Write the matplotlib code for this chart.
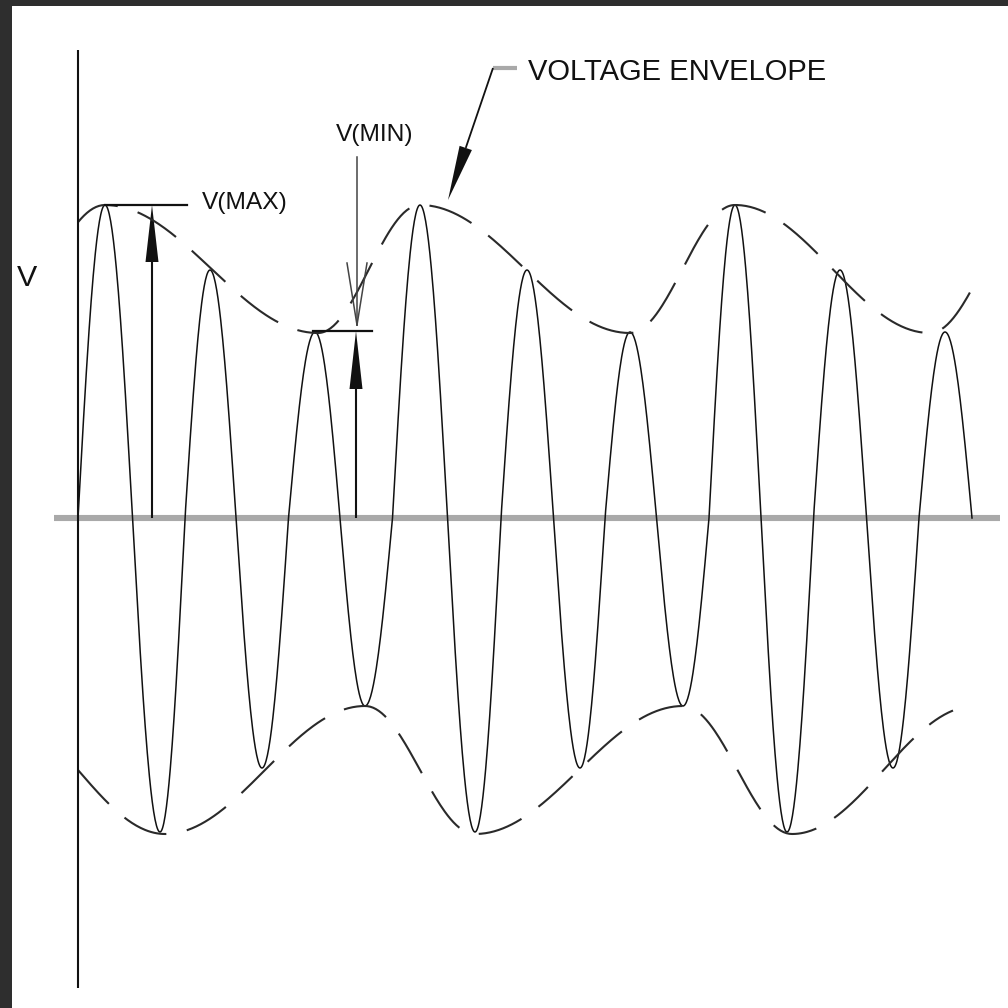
"""
Voltage envelope sketch: carrier with dashed envelope, V(MAX) / V(MIN) markers.
Units are screen-like: x measured from the V axis, y measured from the baseline.
"""

import matplotlib

matplotlib.use("Agg")
import matplotlib.pyplot as plt
import numpy as np
from matplotlib import font_manager

# carrier extrema (x position, signed amplitude) and its start / end on the baseline
CARRIER_X = [27, 82, 132, 184, 237, 287, 342, 397, 449, 502, 552, 605, 657, 709, 762, 815, 867]
CARRIER_V = [313, -314, 248, -250, 186, -188, 313, -314, 248, -250, 186, -188, 313, -314, 248, -250, 186]
CARRIER_START = 0
CARRIER_END = 894

# dashed envelope turning points
UPPER_X = [-86, 27, 240, 342, 552, 657, 852, 957]
UPPER_V = [185, 313, 185, 313, 185, 313, 185, 313]
UPPER_SPAN = (0, 895)
LOWER_X = [-87, 87, 287, 397, 605, 714, 897]
LOWER_V = [-188, -316, -188, -316, -188, -316, -188]
LOWER_SPAN = (0, 875)

V_MAX = 313
V_MIN = 187

INK = "#111111"
AXIS_GREY = "#a9a9a9"
FRAME = "#2e2e2e"

names = {f.name for f in font_manager.fontManager.ttflist}
if "Liberation Sans Narrow" in names:
    FONT, FSCALE = "Liberation Sans Narrow", 1.0
else:
    FONT, FSCALE = "Liberation Sans", 0.84


def carrier_curve(xs, vs, x0, x1):
    """Quarter-wave arcs from zero crossing to each extremum and back."""
    cross = [x0] + [(a + b) / 2 for a, b in zip(xs[:-1], xs[1:])] + [x1]
    px, py = [], []
    for i, (xe, a) in enumerate(zip(xs, vs)):
        left, right = cross[i], cross[i + 1]
        t = np.linspace(left, xe, 40)
        px.append(t)
        py.append(a * np.sin(np.pi / 2 * (t - left) / (xe - left)))
        t = np.linspace(xe, right, 40)[1:]
        px.append(t)
        py.append(a * np.cos(np.pi / 2 * (t - xe) / (right - xe)))
    return np.concatenate(px), np.concatenate(py)


def envelope_curve(xs, vs, span):
    """Smooth half-cosine blend between successive turning points."""
    t = np.linspace(span[0], span[1], 600)
    idx = np.clip(np.searchsorted(xs, t) - 1, 0, len(xs) - 2)
    xa, xb = np.array(xs)[idx], np.array(xs)[idx + 1]
    va, vb = np.array(vs)[idx], np.array(vs)[idx + 1]
    f = (1 - np.cos(np.pi * (t - xa) / (xb - xa))) / 2
    return t, va + (vb - va) * f


def filled_arrow(ax, tail, tip, head_len, half_w, color=INK, lw=1.5):
    tail, tip = np.array(tail, float), np.array(tip, float)
    d = (tip - tail) / np.linalg.norm(tip - tail)
    n = np.array([-d[1], d[0]])
    base = tip - d * head_len
    ax.plot([tail[0], base[0]], [tail[1], base[1]], color=color, lw=lw, solid_capstyle="butt")
    head = np.array([tip, base + n * half_w, base - n * half_w])
    ax.fill(head[:, 0], head[:, 1], color=color, lw=0)


def open_arrow(ax, tail, tip, head_len, half_w, color="#444444", lw=1.1):
    tail, tip = np.array(tail, float), np.array(tip, float)
    d = (tip - tail) / np.linalg.norm(tip - tail)
    n = np.array([-d[1], d[0]])
    base = tip - d * head_len
    ax.plot([tail[0], tip[0]], [tail[1], tip[1]], color=color, lw=lw)
    for s in (1, -1):
        b = base + s * n * half_w
        ax.plot([b[0], tip[0]], [b[1], tip[1]], color=color, lw=lw)


plt.rcParams["lines.scale_dashes"] = False
fig = plt.figure(figsize=(10.08, 10.08), dpi=100, facecolor=FRAME)
ax = fig.add_axes([12 / 1008, 0, 996 / 1008, 1002 / 1008])
ax.set_facecolor("white")
ax.set_xlim(-66, 930)
ax.set_ylim(-490, 512)
ax.axis("off")
ax.add_patch(plt.Rectangle((-66, -490), 996, 1002, color="white", zorder=0))

# axes of the sketch
ax.plot([-24, 922], [0, 0], color=AXIS_GREY, lw=4.4, solid_capstyle="butt", zorder=1)
ax.plot([0, 0], [-470, 468], color=INK, lw=1.5, solid_capstyle="butt", zorder=3)

# carrier
cx, cy = carrier_curve(CARRIER_X, CARRIER_V, CARRIER_START, CARRIER_END)
ax.plot(cx, cy, color=INK, lw=1.1, zorder=2)

# dashed envelope
for xs, vs, span in ((UPPER_X, UPPER_V, UPPER_SPAN), (LOWER_X, LOWER_V, LOWER_SPAN)):
    ex, ey = envelope_curve(xs, vs, span)
    ax.plot(ex, ey, color="#2a2a2a", lw=1.5, dashes=(33, 15), dash_capstyle="butt", zorder=2)

# V(MAX) marker
ax.plot([CARRIER_X[0], 109], [V_MAX, V_MAX], color=INK, lw=1.6, zorder=3)
filled_arrow(ax, (74, 0), (74, V_MAX), head_len=57, half_w=6.5)
ax.text(124, 315, "V(MAX)", fontsize=21 * FSCALE, family=FONT, color=INK, ha="left", va="center")

# V(MIN) marker
ax.plot([235, 294], [V_MIN, V_MIN], color=INK, lw=1.6, zorder=3)
filled_arrow(ax, (278, 0), (278, V_MIN), head_len=58, half_w=6.5)
open_arrow(ax, (279, 361), (279, V_MIN + 6), head_len=62, half_w=10)
ax.text(297, 383, "V(MIN)", fontsize=21 * FSCALE, family=FONT, color=INK, ha="center", va="center")

# envelope callout
ax.plot([415, 439], [450, 450], color=AXIS_GREY, lw=3, solid_capstyle="butt")
filled_arrow(ax, (415, 450), (370, 318), head_len=55, half_w=6.5, lw=1.3)
ax.text(450, 446, "VOLTAGE ENVELOPE", fontsize=25 * FSCALE, family=FONT, color=INK, ha="left", va="center")

ax.text(-51, 240, "V", fontsize=26 * FSCALE, family=FONT, color=INK, ha="center", va="center")

fig.savefig("out.png", dpi=100, facecolor=FRAME)
